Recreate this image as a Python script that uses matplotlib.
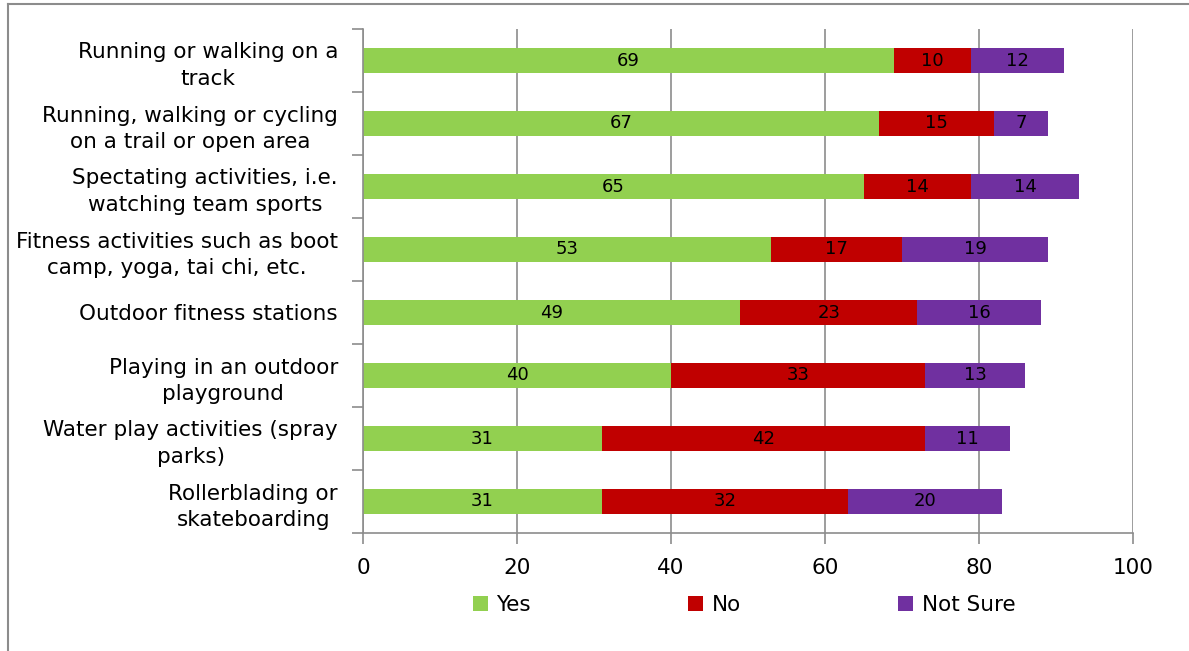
import matplotlib.pyplot as plt
import numpy as np
from matplotlib.lines import Line2D

activities = [
    'Running or walking on a\ntrack',
    'Running, walking or cycling\non a trail or open area',
    'Spectating activities, i.e.\nwatching team sports',
    'Fitness activities such as boot\ncamp, yoga, tai chi, etc.',
    'Outdoor fitness stations',
    'Playing in an outdoor\nplayground',
    'Water play activities (spray\nparks)',
    'Rollerblading or\nskateboarding',
]
yes = [69, 67, 65, 53, 49, 40, 31, 31]
no = [10, 15, 14, 17, 23, 33, 42, 32]
not_sure = [12, 7, 14, 19, 16, 13, 11, 20]

series = [('Yes', yes, '#92D050'), ('No', no, '#C00000'), ('Not Sure', not_sure, '#7030A0')]

plt.rcParams['font.family'] = ['DejaVu Sans']

fig = plt.figure(figsize=(11.89, 6.51), dpi=100)
ax = fig.add_axes([363 / 1189, 1 - 533 / 651, (1133 - 363) / 1189, (533 - 29) / 651])

y = np.arange(len(activities))
left = np.zeros(len(activities))
for name, vals, color in series:
    bars = ax.barh(y, vals, left=left, height=0.4, color=color, label=name, zorder=2)
    ax.bar_label(bars, labels=[str(v) for v in vals], label_type='center', fontsize=13, color='black')
    left += np.array(vals)

ax.set_xlim(0, 100)
ax.set_ylim(len(activities) - 0.5, -0.5)
ax.set_xticks(range(0, 101, 20))
ax.set_yticks(y)
ax.set_yticklabels(activities, multialignment='center', fontsize=15.5, linespacing=1.4)
ax.set_yticks(np.arange(-0.5, len(activities), 1), minor=True)
ax.tick_params(axis='y', which='major', length=0, pad=18)
ax.tick_params(axis='y', which='minor', length=8, color='#8c8c8c', width=1.2)
ax.tick_params(axis='x', length=8, color='#8c8c8c', width=1.2, labelsize=15.5, pad=10)

ax.grid(axis='x', color='#8c8c8c', linewidth=1.2, zorder=0)
ax.set_axisbelow(True)
for s in ['top', 'right']:
    ax.spines[s].set_visible(False)
for s in ['left', 'bottom']:
    ax.spines[s].set_color('#8c8c8c')
    ax.spines[s].set_linewidth(1.2)

ax.legend(loc='upper center', bbox_to_anchor=(0.495, -0.085), ncol=3, frameon=False,
          fontsize=15.5, handlelength=0.7, handleheight=0.7, handletextpad=0.4, columnspacing=7.3)

# outer chart border (left and top edges visible)
fig.add_artist(Line2D([8 / 1189, 8 / 1189], [0, 1 - 4 / 651], color='#8c8c8c', linewidth=1.5))
fig.add_artist(Line2D([8 / 1189, 1], [1 - 4 / 651, 1 - 4 / 651], color='#8c8c8c', linewidth=1.5))

fig.savefig('out.png', dpi=100)
